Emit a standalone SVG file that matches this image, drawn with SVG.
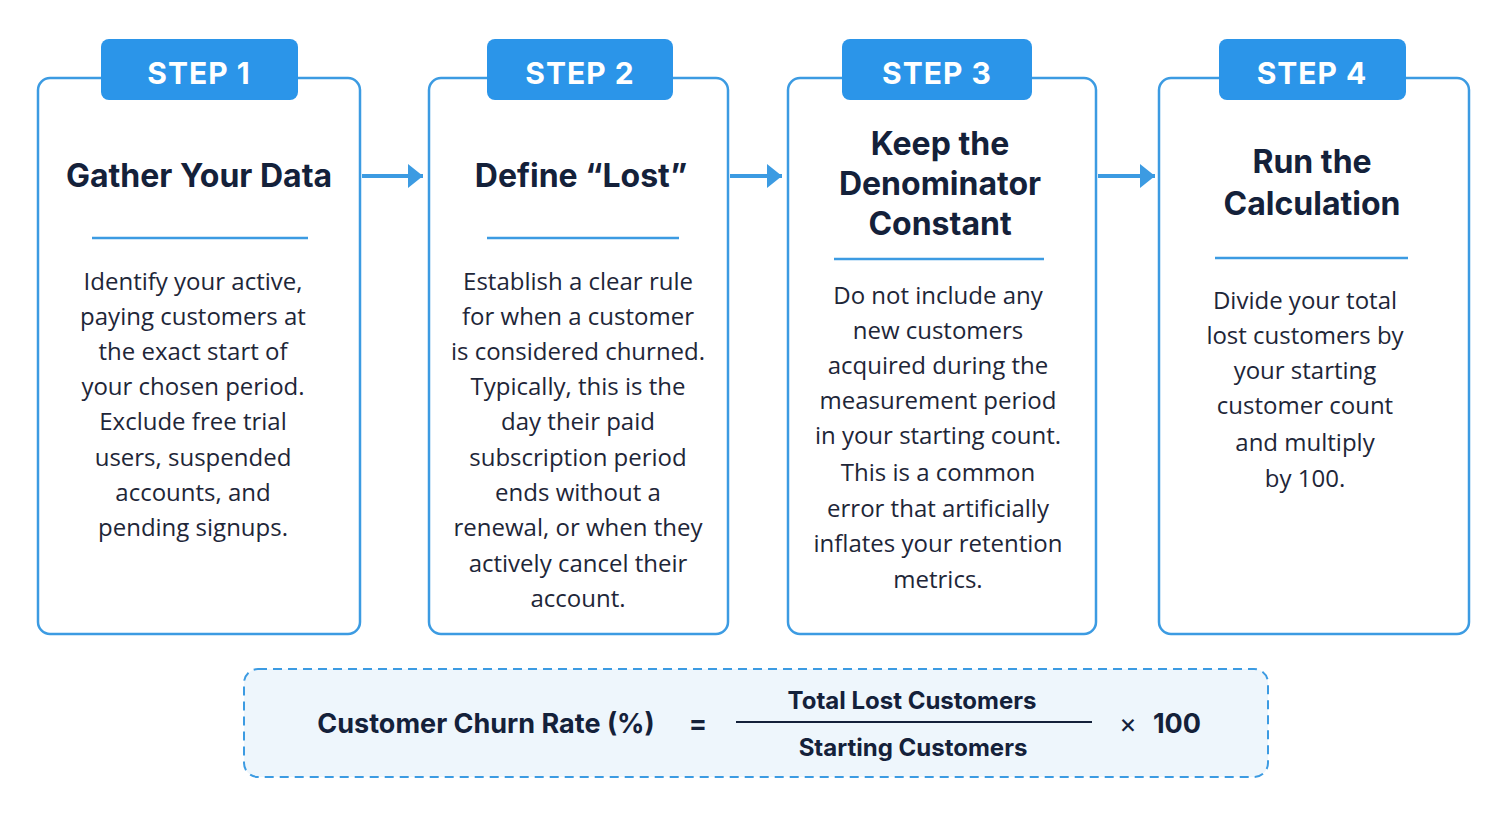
<svg xmlns="http://www.w3.org/2000/svg" width="1509" height="817" viewBox="0 0 1509 817">
<style>
.box{fill:#fff;stroke:#3c9be2;stroke-width:2.5}
.tab{fill:#2b95e9}
.tabt{font:bold 30px "Inter","Liberation Sans",sans-serif;fill:#fff;text-anchor:middle;letter-spacing:1px}
.title{font:bold 32px "Inter","Liberation Sans",sans-serif;fill:#14213a;text-anchor:middle}
.body{font:24px "Open Sans","Liberation Sans",sans-serif;fill:#1e2638;text-anchor:middle}
.rule{stroke:#3c9be2;stroke-width:2.5}
.conn{stroke:#3c9be2;stroke-width:4;fill:none}
.f{font:bold 27px "Inter","Liberation Sans",sans-serif;fill:#14213a;text-anchor:middle}
.fs{font:bold 24px "Inter","Liberation Sans",sans-serif;fill:#14213a;text-anchor:middle}
</style>
<defs>
<marker id="a" viewBox="0 0 15 24" refX="15" refY="12" markerWidth="15" markerHeight="24" markerUnits="userSpaceOnUse" orient="auto"><path d="M0,0 L15,12 L0,24Z" fill="#3c9be2"/></marker></defs>
<rect width="1509" height="817" fill="#fff"/>
<g id="connectors">
<line class="conn" x1="362" y1="176" x2="423" y2="176" marker-end="url(#a)"/>
<line class="conn" x1="730" y1="176" x2="782" y2="176" marker-end="url(#a)"/>
<line class="conn" x1="1098" y1="176" x2="1155" y2="176" marker-end="url(#a)"/>
</g>
<g id="step1">
<rect class="box" x="38" y="78" width="322" height="556" rx="12"/>
<rect class="tab" x="101" y="39" width="197" height="61" rx="8"/>
<text class="tabt" x="199" y="84">STEP 1</text>
<text class="title" x="199" y="187">Gather Your Data</text>
<line class="rule" x1="92" y1="238" x2="308" y2="238"/>
<text class="body"><tspan x="193" y="290">Identify your active,</tspan><tspan x="193" y="325">paying customers at</tspan><tspan x="193" y="360">the exact start of</tspan><tspan x="193" y="395">your chosen period.</tspan><tspan x="193" y="430">Exclude free trial</tspan><tspan x="193" y="466">users, suspended</tspan><tspan x="193" y="501">accounts, and</tspan><tspan x="193" y="536">pending signups.</tspan></text>
</g>
<g id="step2">
<rect class="box" x="429" y="78" width="299" height="556" rx="12"/>
<rect class="tab" x="487" y="39" width="186" height="61" rx="8"/>
<text class="tabt" x="580" y="84">STEP 2</text>
<text class="title" x="581" y="187">Define “Lost”</text>
<line class="rule" x1="487" y1="238" x2="679" y2="238"/>
<text class="body"><tspan x="578" y="290">Establish a clear rule</tspan><tspan x="578" y="325">for when a customer</tspan><tspan x="578" y="360">is considered churned.</tspan><tspan x="578" y="395">Typically, this is the</tspan><tspan x="578" y="430">day their paid</tspan><tspan x="578" y="466">subscription period</tspan><tspan x="578" y="501">ends without a</tspan><tspan x="578" y="536">renewal, or when they</tspan><tspan x="578" y="572">actively cancel their</tspan><tspan x="578" y="607">account.</tspan></text>
</g>
<g id="step3">
<rect class="box" x="788" y="78" width="308" height="556" rx="12"/>
<rect class="tab" x="842" y="39" width="190" height="61" rx="8"/>
<text class="tabt" x="937" y="84">STEP 3</text>
<text class="title"><tspan x="940" y="155">Keep the</tspan><tspan x="940" y="195">Denominator</tspan><tspan x="940" y="235">Constant</tspan></text>
<line class="rule" x1="834" y1="259" x2="1044" y2="259"/>
<text class="body"><tspan x="938" y="304">Do not include any</tspan><tspan x="938" y="339">new customers</tspan><tspan x="938" y="374">acquired during the</tspan><tspan x="938" y="409">measurement period</tspan><tspan x="938" y="444">in your starting count.</tspan><tspan x="938" y="481">This is a common</tspan><tspan x="938" y="517">error that artificially</tspan><tspan x="938" y="552">inflates your retention</tspan><tspan x="938" y="588">metrics.</tspan></text>
</g>
<g id="step4">
<rect class="box" x="1159" y="78" width="310" height="556" rx="12"/>
<rect class="tab" x="1219" y="39" width="187" height="61" rx="8"/>
<text class="tabt" x="1312" y="84">STEP 4</text>
<text class="title"><tspan x="1312" y="173">Run the</tspan><tspan x="1312" y="215">Calculation</tspan></text>
<line class="rule" x1="1215" y1="258" x2="1408" y2="258"/>
<text class="body"><tspan x="1305" y="309">Divide your total</tspan><tspan x="1305" y="344">lost customers by</tspan><tspan x="1305" y="379">your starting</tspan><tspan x="1305" y="414">customer count</tspan><tspan x="1305" y="451">and multiply</tspan><tspan x="1305" y="487">by 100.</tspan></text>
</g>
<g id="formula">
<rect x="244" y="669" width="1024" height="108" rx="14" fill="#eef6fc" stroke="#3c9be2" stroke-width="2" stroke-dasharray="9,6"/>
<text class="f" x="486" y="733">Customer Churn Rate (%)</text>
<text class="f" x="698" y="733">=</text>
<text class="fs" x="912" y="709">Total Lost Customers</text>
<line x1="736" y1="722" x2="1092" y2="722" stroke="#14213a" stroke-width="2"/>
<text class="fs" x="913" y="756">Starting Customers</text>
<text class="f" x="1128" y="733" style="font-weight:normal">×</text>
<text class="f" x="1177" y="733">100</text>
</g>
</svg>
